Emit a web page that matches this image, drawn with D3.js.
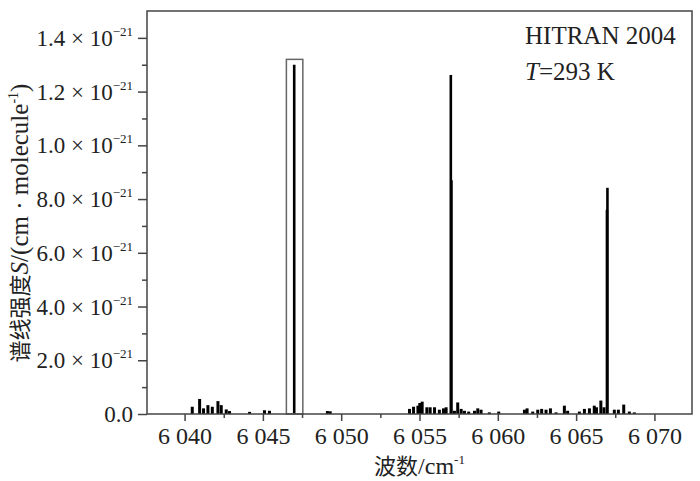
<!DOCTYPE html>
<html><head><meta charset="utf-8">
<script src="https://cdn.jsdelivr.net/npm/d3@7"></script>
<style>
html,body{margin:0;padding:0;background:#fff;}
svg{display:block;}
</style></head>
<body>
<svg id="chart" width="700" height="481"></svg>
<script>
// Line positions (cm^-1) and intensities (×10^-21 cm/molecule)
const lineNu = [6040.49,6040.96,6041.21,6041.49,6041.77,6042.13,6042.34,6042.66,6042.87,6044.15,6045.10,6045.42,
  6047.00,
  6049.12,6049.30,
  6054.36,6054.62,6054.90,6055.02,6055.17,6055.47,6055.68,6055.96,6056.27,6056.53,6056.70,
  6057.00,6057.04,
  6057.23,6057.44,6057.66,6057.87,6058.14,6058.51,6058.72,6058.93,6059.46,6060.06,
  6061.70,6061.87,6062.23,6062.55,6062.80,6063.08,6063.36,6063.72,6064.25,6064.46,6065.21,6065.53,6065.85,6066.16,6066.30,6066.58,6066.78,
  6066.97,6067.00,
  6067.44,6067.70,6068.04,6068.40,6068.72];
const lineS = [0.027,0.056,0.021,0.033,0.027,0.048,0.033,0.017,0.011,0.008,0.014,0.012,
  1.30,
  0.011,0.010,
  0.019,0.027,0.031,0.041,0.046,0.025,0.025,0.025,0.016,0.021,0.025,
  1.262,0.87,
  0.012,0.043,0.019,0.012,0.009,0.012,0.021,0.016,0.006,0.009,
  0.016,0.021,0.009,0.016,0.019,0.016,0.021,0.006,0.031,0.012,0.009,0.019,0.021,0.031,0.025,0.050,0.025,
  0.76,0.842,
  0.016,0.016,0.035,0.009,0.006];

const xTicks = [6040,6045,6050,6055,6060,6065,6070];
const xMinorTicks = [6042.5,6047.5,6052.5,6057.5,6062.5,6067.5];
const xTickLabels = ["6 040","6 045","6 050","6 055","6 060","6 065","6 070"];
const yTicks = [0,0.2,0.4,0.6,0.8,1.0,1.2,1.4];
const yMinorTicks = [0.1,0.3,0.5,0.7,0.9,1.1,1.3];
const yTickLabels = ["0.0","2.0","4.0","6.0","8.0","1.0","1.2","1.4"];
const yTickExp = "\u221221";
const highlight = {nu0:6046.5, nu1:6047.55, s:1.32};
const annot = ["HITRAN 2004", "=293 K"];

const SERIF = '"Liberation Serif","DejaVu Serif",serif';
const CJK = '"Noto Sans CJK SC","Noto Sans CJK JP",sans-serif';

const svg = d3.select("#chart");
const L=147, R=692, T=11, B=414;
const x = d3.scaleLinear().domain([6037.6,6072.4]).range([L,R]);
const y = d3.scaleLinear().domain([0,1.5]).range([B,T]);

// spectral lines
svg.append("g").selectAll("line").data(lineNu.map((v,i)=>({nu:v,s:lineS[i]}))).join("line")
  .attr("x1",d=>x(d.nu)).attr("x2",d=>x(d.nu))
  .attr("y1",y(0)).attr("y2",d=>y(d.s))
  .attr("stroke","#000").attr("stroke-width",d=>d.s>0.5?2.6:3);

// highlight box
svg.append("rect")
  .attr("x",x(highlight.nu0)).attr("y",y(highlight.s))
  .attr("width",x(highlight.nu1)-x(highlight.nu0)).attr("height",y(0)-y(highlight.s))
  .attr("fill","none").attr("stroke","#666").attr("stroke-width",1.5);

// frame
svg.append("rect").attr("x",L).attr("y",T).attr("width",R-L).attr("height",B-T)
  .attr("fill","none").attr("stroke","#444").attr("stroke-width",1.5);

// x axis
const xAxis = svg.append("g").attr("transform",`translate(0,${B})`)
  .call(d3.axisBottom(x).tickValues(xTicks).tickSize(7).tickPadding(6)
    .tickFormat((d,i)=>xTickLabels[i]));
xAxis.select(".domain").remove();
xAxis.selectAll(".tick line").attr("stroke","#444").attr("stroke-width",1.5);
xAxis.selectAll("text").style("font-size","24px").style("font-family",SERIF).attr("fill","#222");
const xMinor = svg.append("g").attr("transform",`translate(0,${B})`)
  .call(d3.axisBottom(x).tickValues(xMinorTicks).tickSize(4).tickFormat(""));
xMinor.select(".domain").remove();
xMinor.selectAll(".tick line").attr("stroke","#444").attr("stroke-width",1.5);

// y axis
const yAxis = svg.append("g").attr("transform",`translate(${L},0)`)
  .call(d3.axisLeft(y).tickValues(yTicks).tickSize(9).tickFormat(""));
yAxis.select(".domain").remove();
yAxis.selectAll(".tick line").attr("stroke","#444").attr("stroke-width",1.5);
const yMinor = svg.append("g").attr("transform",`translate(${L},0)`)
  .call(d3.axisLeft(y).tickValues(yMinorTicks).tickSize(5).tickFormat(""));
yMinor.select(".domain").remove();
yMinor.selectAll(".tick line").attr("stroke","#444").attr("stroke-width",1.5);

const ylab = svg.append("g").selectAll("text").data(yTicks).join("text")
  .attr("x",L-14).attr("y",d=>y(d)+8)
  .attr("text-anchor","end").attr("fill","#222")
  .style("font-family",SERIF).style("font-size","23px");
ylab.each(function(d,i){
  const t=d3.select(this);
  if(d===0){ t.text(yTickLabels[i]); return; }
  t.append("tspan").text(yTickLabels[i]+" \u00d7 10");
  t.append("tspan").attr("dy",-10).style("font-size","13px").text(yTickExp);
});

// axis titles
const xt = svg.append("text").attr("x",(L+R)/2).attr("y",474).attr("text-anchor","middle")
  .attr("fill","#222").style("font-family",SERIF).style("font-size","24px");
xt.append("tspan").style("font-family",CJK).style("font-size","22px").text("波数");
xt.append("tspan").text("/cm");
xt.append("tspan").attr("dy",-10).style("font-size","13px").text("-1");

const yt = svg.append("text").attr("transform",`translate(28,223) rotate(-90)`).attr("text-anchor","middle")
  .attr("fill","#222").style("font-family",SERIF).style("font-size","25px");
yt.append("tspan").style("font-family",CJK).style("font-size","22px").text("谱线强度");
yt.append("tspan").style("font-style","italic").text("S");
yt.append("tspan").text("/(cm · molecule");
yt.append("tspan").attr("dy",-10).style("font-size","14px").text("-1");
yt.append("tspan").attr("dy",10).text(")");

// annotation
svg.append("text").attr("x",525).attr("y",44).attr("fill","#222")
  .style("font-family",SERIF).style("font-size","25px").text(annot[0]);
const t2 = svg.append("text").attr("x",525).attr("y",80).attr("fill","#222")
  .style("font-family",SERIF).style("font-size","25px");
t2.append("tspan").style("font-style","italic").text("T");
t2.append("tspan").text(annot[1]);
</script>
</body></html>
